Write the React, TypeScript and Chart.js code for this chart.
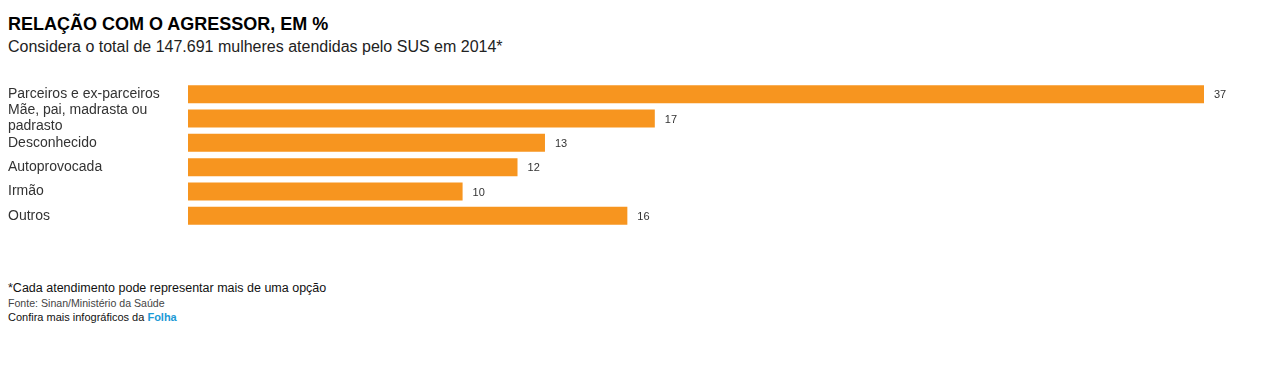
import React, { useEffect, useRef } from "react";
import { Chart, registerables } from "chart.js";

Chart.register(...registerables);

const categories: (string | string[])[] = [
  "Parceiros e ex-parceiros",
  ["Mãe, pai, madrasta ou", "padrasto"],
  "Desconhecido",
  "Autoprovocada",
  "Irmão",
  "Outros",
];
const values: number[] = [37, 17, 13, 12, 10, 16];

const FONT = "'Liberation Sans', Arial, sans-serif";

const valueLabels = {
  id: "valueLabels",
  afterDatasetsDraw(chart: any) {
    const ctx = chart.ctx;
    const meta = chart.getDatasetMeta(0);
    ctx.save();
    ctx.font = `11px ${FONT}`;
    ctx.fillStyle = "#333";
    ctx.textAlign = "left";
    ctx.textBaseline = "middle";
    meta.data.forEach((bar: any, i: number) => {
      ctx.fillText(String(values[i]), bar.x + 10, bar.y + 1);
    });
    ctx.restore();
  },
};

export default function App() {
  const ref = useRef<HTMLCanvasElement>(null);
  useEffect(() => {
    document.body.style.margin = "0";
    const chart = new Chart(ref.current!, {
      type: "bar",
      data: {
        labels: categories,
        datasets: [
          {
            data: values,
            backgroundColor: "#F7951F",
            barPercentage: 0.74,
            categoryPercentage: 1,
          },
        ],
      },
      options: {
        indexAxis: "y",
        animation: false,
        responsive: false,
        maintainAspectRatio: false,
        layout: { padding: { left: 8, right: 58, top: 12, bottom: 12 } },
        plugins: { legend: { display: false }, tooltip: { enabled: false } },
        scales: {
          x: { display: false, min: 0, max: 37 },
          y: {
            grid: { display: false },
            border: { display: false },
            ticks: {
              autoSkip: false,
              crossAlign: "far",
              color: "#333",
              font: { family: FONT, size: 14, lineHeight: 1.15 },
            },
            afterFit: (scale: any) => {
              scale.width = 180;
            },
          },
        },
      },
      plugins: [valueLabels],
    });
    return () => chart.destroy();
  }, []);

  const abs = (top: number, extra: React.CSSProperties = {}): React.CSSProperties => ({
    position: "absolute",
    left: 8,
    top,
    fontFamily: FONT,
    lineHeight: 1,
    whiteSpace: "nowrap",
    margin: 0,
    ...extra,
  });

  return (
    <div style={{ position: "relative", width: 1262, height: 384, background: "#fff" }}>
      <div style={abs(15, { fontSize: 18, fontWeight: "bold", color: "#000" })}>
        RELAÇÃO COM O AGRESSOR, EM %
      </div>
      <div style={abs(38.5, { fontSize: 16, color: "#222" })}>
        Considera o total de 147.691 mulheres atendidas pelo SUS em 2014*
      </div>
      <canvas
        ref={ref}
        width={1262}
        height={170}
        style={{ position: "absolute", left: 0, top: 70, width: 1262, height: 170 }}
      />
      <div style={abs(281.5, { fontSize: 12.5, color: "#111" })}>
        *Cada atendimento pode representar mais de uma opção
      </div>
      <div style={abs(297.5, { fontSize: 10.6, color: "#444" })}>
        Fonte: Sinan/Ministério da Saúde
      </div>
      <div style={abs(312, { fontSize: 11, color: "#111" })}>
        Confira mais infográficos da{" "}
        <span style={{ color: "#1C9AD6", fontWeight: "bold" }}>Folha</span>
      </div>
    </div>
  );
}
